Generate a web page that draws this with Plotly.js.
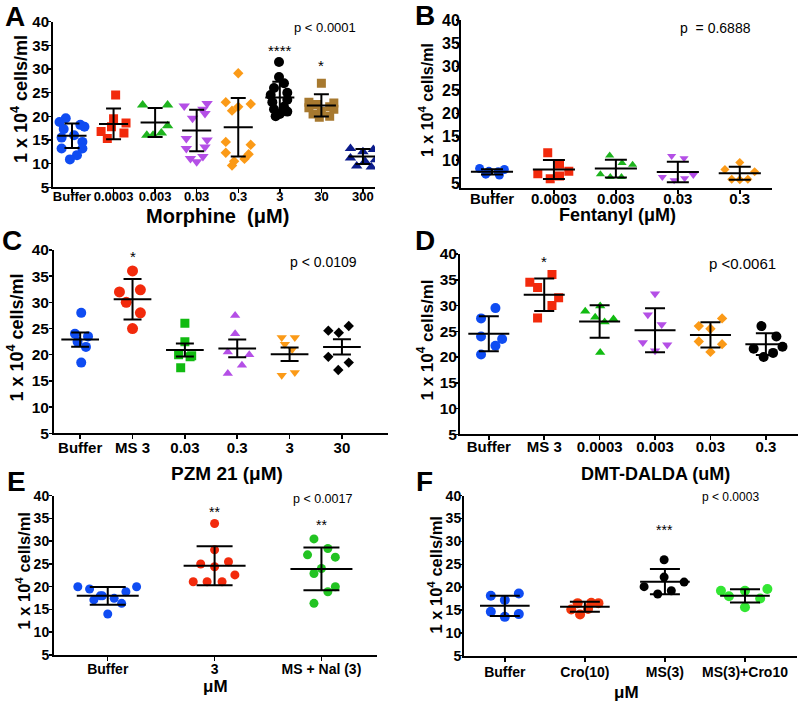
<!DOCTYPE html>
<html><head><meta charset="utf-8">
<script src="https://cdn.plot.ly/plotly-3.0.1.min.js"></script>
<style>body{margin:0;background:#fff}#chart{width:800px;height:705px}</style>
</head><body><div id="chart"></div>
<script>
// ---------- Panel A : Morphine ----------
const aLabels = ['Buffer','0.0003','0.003','0.03','0.3','3','30','300'];
const aValues = [
  [19.6,18.8,18.2,17.8,17.3,16.0,15.5,14.6,13.2,13.2,11.8,10.9],
  [24.5,19.5,18.6,17.8,16.8,16.5,15.3],
  [22.4,22.4,18.0,16.5,16.0,16.0],
  [22.7,22.2,21.5,20.6,19.6,15.3,15.0,13.5,13.2,11.5,11.1,10.4],
  [29.1,23.0,22.6,22.0,21.2,14.6,14.0,12.3,12.0,11.0,10.5,9.6],
  [31.5,28.3,27.0,26.0,25.0,24.5,23.5,23.0,22.0,21.5,21.0,20.5,20.0],
  [27.0,23.0,22.8,22.5,22.0,21.8,21.5,21.0,20.5,20.0,19.8],
  [13.2,13.0,12.5,11.2,10.8,10.5,9.5,9.3]
];
const aJitter = [
  [-0.15,-0.3,0.2,0.3,-0.2,0.05,-0.25,0.25,-0.25,0.25,0.12,-0.05],
  [0.05,0.0,0.3,-0.05,-0.3,0.25,-0.15],
  [-0.3,0.3,0.3,0.15,-0.2,-0.05],
  [0.25,-0.3,0.15,0.2,-0.1,-0.25,0.25,0.2,-0.25,0.15,-0.15,0.0],
  [0.0,-0.3,0.3,0.0,-0.15,-0.3,0.3,-0.3,0.25,0.15,-0.1,-0.15],
  [-0.02,-0.02,0.1,-0.14,0.18,-0.22,0.18,-0.18,0.1,-0.14,0.18,0.0,-0.1],
  [0.0,-0.3,0.3,-0.1,0.2,-0.3,0.3,0.0,-0.2,0.2,-0.05],
  [-0.3,0.25,0.0,-0.3,0.3,0.05,-0.15,0.2]
];
const aMean = [15.9,18.4,18.7,17.0,17.7,24.0,22.3,11.5];
const aSD   = [2.6,3.25,3.05,4.4,6.2,3.3,2.35,1.6];

// ---------- Panel B : Fentanyl ----------
const bLabels = ['Buffer','0.0003','0.003','0.03','0.3'];
const bValues = [
  [8.2,8.0,7.6,7.5,7.0,6.8],
  [11.6,9.1,7.6,7.1,6.6,6.0],
  [11.0,9.4,9.0,7.0,6.4,6.4],
  [10.9,10.4,6.8,6.4,6.1,5.7],
  [9.5,8.0,7.5,5.9,5.8,5.9]
];
const bJitter = [
  [-0.2,0.2,-0.05,0.1,-0.1,0.12],
  [-0.1,0.09,0.24,-0.26,0.09,-0.06],
  [-0.1,0.1,0.27,-0.25,-0.09,0.09],
  [-0.1,0.1,0.25,-0.25,0.11,-0.06],
  [0.0,-0.24,0.24,-0.13,0.0,0.13]
];
const bMean = [7.5,8.0,8.2,7.45,7.2];
const bSD   = [0.55,2.05,1.9,2.2,1.4];

// ---------- Panel C : PZM 21 ----------
const cLabels = ['Buffer','MS 3','0.03','0.3','3','30'];
const cValues = [
  [28.0,24.0,23.5,22.5,21.5,18.5],
  [36.0,32.0,32.4,30.0,28.0,25.0],
  [26.0,22.5,20.0,19.6,19.8,17.5],
  [27.5,24.0,20.5,20.0,18.0,16.4],
  [23.3,23.3,22.0,21.0,16.1,16.6],
  [24.6,24.2,25.5,19.6,18.5,17.1]
];
const cJitter = [
  [0.02,-0.1,0.15,-0.05,0.11,0.02],
  [0.0,-0.25,0.15,-0.12,0.15,0.0],
  [0.0,0.0,-0.12,0.1,0.13,-0.08],
  [-0.04,-0.04,-0.18,0.23,0.09,-0.18],
  [-0.15,0.1,-0.09,0.05,-0.15,0.1],
  [-0.26,-0.06,0.13,-0.26,0.13,-0.07]
];
const cMean = [22.9,30.6,20.9,21.2,20.1,21.5];
const cErr  = [1.35,3.85,1.25,1.7,1.3,1.45];

// ---------- Panel D : DMT-DALDA ----------
const dLabels = ['Buffer','MS 3','0.0003','0.003','0.03','0.3'];
const dValues = [
  [29.5,27.5,24.0,23.5,22.2,20.5],
  [36.0,34.5,33.5,31.5,30.0,27.6],
  [28.9,29.9,27.7,26.8,27.4,20.9],
  [32.3,28.2,26.3,22.8,22.4,21.2],
  [26.0,25.5,27.5,23.0,22.5,21.0],
  [26.0,24.0,21.6,22.0,20.8,20.0]
];
const dJitter = [
  [0.12,-0.14,-0.14,0.24,0.12,-0.14],
  [0.14,-0.26,-0.12,0.26,0.14,-0.12],
  [-0.26,0.01,-0.08,0.09,0.25,0.01],
  [0.0,-0.13,0.12,-0.22,0.22,0.0],
  [-0.21,0.0,0.21,-0.21,0.21,0.0],
  [-0.08,0.19,-0.22,0.3,0.13,-0.04]
];
const dMean = [24.5,32.1,26.9,25.2,24.3,22.5];
const dSD   = [3.4,3.15,3.15,4.25,2.45,2.1];

// ---------- Panel E : uM ----------
const eLabels = ['Buffer','3','MS + Nal (3)'];
const eValues = [
  [20.0,19.5,18.0,17.1,18.0,17.45,14.0,16.35,18.9,20.0],
  [33.9,28.1,25.0,25.5,24.4,22.6,21.1,21.1,21.1],
  [30.5,28.4,27.0,26.5,24.0,22.9,20.0,18.9,16.35]
];
const eJitter = [
  [-0.28,-0.17,-0.07,-0.13,-0.05,0.06,0.0,0.13,0.17,0.27],
  [0.0,0.0,-0.13,0.13,0.0,0.19,-0.2,-0.07,0.07],
  [-0.07,0.06,-0.13,0.13,0.0,-0.07,0.13,0.06,-0.07]
];
const eMean = [18.0,24.6,23.9];
const eSD   = [1.95,4.3,4.7];

// ---------- Panel F : uM ----------
const fLabels = ['Buffer','Cro(10)','MS(3)','MS(3)+Cro10'];
const fValues = [
  [18.1,18.6,17.2,14.6,14.1,13.5],
  [16.5,16.6,16.5,15.1,15.2,14.0],
  [26.0,22.2,20.1,21.1,18.5,19.2],
  [19.2,18.0,19.2,19.6,17.5,15.6]
];
const fJitter = [
  [-0.175,0.175,0.0,-0.175,0.175,0.0],
  [-0.09,0.08,0.17,-0.17,0.04,-0.06],
  [-0.01,-0.01,-0.26,0.24,-0.09,0.08],
  [-0.3,-0.2,0.0,0.28,0.19,0.0]
];
const fMean = [15.9,15.7,21.2,18.1];
const fSD   = [2.2,1.1,2.75,1.45];

const yTicks = [5,10,15,20,25,30,35,40];

const BLUE='#0f4cf2', RED='#f22a0c', GREEN='#1fb41f', PURPLE='#b44fe6', ORANGE='#fb9a17', BLACK='#000000';

const W=800, H=705;
const FONT = "Arial, 'Liberation Sans', sans-serif";

const panels = [
  {labels:aLabels, values:aValues, jitter:aJitter, mean:aMean, err:aSD,
   colors:[BLUE,RED,GREEN,PURPLE,ORANGE,BLACK,'#a7792f','#0c1c8c'],
   symbols:['circle','square','triangle-up','triangle-down','diamond','circle','square','triangle-up'],
   sizes:[10,9,10,10,8,10,9,10],
   box:[53,375,21.7,187.3], xr:[-0.457,7.29], yr:[5,40], meanW:0.35, capW:7.5, xfs:13, yfs:15, xso:-8, yso:-4},
  {labels:bLabels, values:bValues, jitter:bJitter, mean:bMean, err:bSD,
   colors:[BLUE,RED,GREEN,PURPLE,ORANGE],
   symbols:['circle','square','triangle-up','triangle-down','diamond'],
   sizes:[9,9,8,8,7],
   box:[461,772,20,187.7], xr:[-0.5,4.52], yr:[4.1,40], meanW:0.34, capW:11, xfs:15, yfs:16, xso:-8, yso:-7},
  {labels:cLabels, values:cValues, jitter:cJitter, mean:cMean, err:cErr,
   colors:[BLUE,RED,'#11bb11',PURPLE,ORANGE,BLACK],
   symbols:['circle','circle','square','triangle-up','triangle-down','diamond'],
   sizes:[10,11,9,9,9,8],
   box:[54,388,250,433.3], xr:[-0.5,5.88], yr:[5,40], meanW:0.36, capW:9, xfs:15, yfs:15.5, xso:-4, yso:-3},
  {labels:dLabels, values:dValues, jitter:dJitter, mean:dMean, err:dSD,
   colors:[BLUE,RED,'#11bb11',PURPLE,ORANGE,BLACK],
   symbols:['circle','square','triangle-up','triangle-down','diamond','circle'],
   sizes:[10,9,9,9,8,10],
   box:[460,798,254,434.3], xr:[-0.52,5.58], yr:[5,40], meanW:0.37, capW:10, xfs:15, yfs:15.5, xso:-6, yso:-5},
  {labels:eLabels, values:eValues, jitter:eJitter, mean:eMean, err:eSD,
   colors:[BLUE,RED,'#22c322'],
   symbols:['circle','circle','circle'],
   sizes:[9,9,9],
   box:[54,377,495.7,655], xr:[-0.503,2.52], yr:[5,40], meanW:0.29, capW:18, xfs:14, yfs:14, xso:-4, yso:-3},
  {labels:fLabels, values:fValues, jitter:fJitter, mean:fMean, err:fSD,
   colors:[BLUE,'#f2360c',BLACK,'#33e633'],
   symbols:['circle','circle','circle','circle'],
   sizes:[10,10,9,10],
   box:[464,797,495.7,655.7], xr:[-0.51,3.65], yr:[5,40], meanW:0.31, capW:15, xfs:14, yfs:14, xso:-2, yso:-5}
];

const traces = [];
const layout = {
  width:W, height:H, margin:{l:0,r:0,t:0,b:0},
  paper_bgcolor:'#fff', plot_bgcolor:'#fff', showlegend:false,
  font:{family:FONT, color:'#000'}, annotations:[]
};

panels.forEach((p, k) => {
  const s = k === 0 ? '' : String(k+1);
  const xa = 'x'+s, ya = 'y'+s;
  p.values.forEach((vals, i) => {
    traces.push({
      type:'scatter', mode:'markers', xaxis:xa, yaxis:ya, hoverinfo:'skip',
      x: vals.map((_, j) => i + p.jitter[i][j]), y: vals,
      marker:{symbol:p.symbols[i], color:p.colors[i], size:p.sizes[i], line:{width:0}}
    });
  });
  traces.push({
    type:'scatter', mode:'markers', xaxis:xa, yaxis:ya, hoverinfo:'skip',
    x: p.mean.map((_, i) => i), y: p.mean,
    marker:{size:1, color:'rgba(0,0,0,0)'},
    error_y:{type:'data', array:p.err, symmetric:true, color:'#000', thickness:2, width:p.capW}
  });
  const mx = [], my = [];
  p.mean.forEach((m, i) => { mx.push(i - p.meanW, i + p.meanW, null); my.push(m, m, null); });
  traces.push({type:'scatter', mode:'lines', xaxis:xa, yaxis:ya, hoverinfo:'skip',
    x:mx, y:my, line:{color:'#000', width:2}});

  const [l, r, t, b] = p.box;
  layout['xaxis'+s] = {
    domain:[l/W, r/W], range:p.xr, anchor:ya, showline:true, linecolor:'#000', linewidth:2,
    ticks:'outside', ticklen:4, tickwidth:1.5, tickcolor:'#000', ticklabelstandoff:p.xso,
    tickvals:p.labels.map((_, i) => i), ticktext:p.labels,
    tickfont:{family:FONT, size:p.xfs, color:'#000', weight:'bold'},
    showgrid:false, zeroline:false, fixedrange:true
  };
  layout['yaxis'+s] = {
    domain:[1 - b/H, 1 - t/H], range:p.yr, anchor:xa, showline:true, linecolor:'#000', linewidth:2,
    ticks:'outside', ticklen:3, tickwidth:1.5, tickcolor:'#000', ticklabelstandoff:p.yso,
    tickvals:yTicks, ticktext:yTicks.map(String),
    tickfont:{family:FONT, size:p.yfs, color:'#000', weight:'bold'},
    showgrid:false, zeroline:false, fixedrange:true
  };
});

function ann(text, px, py, size, opts) {
  return Object.assign({text:text, xref:'paper', yref:'paper', x:px/W, y:1-py/H,
    xanchor:'center', yanchor:'middle', showarrow:false,
    font:{family:FONT, size:size, color:'#000'}}, opts || {});
}
function dann(k, text, x, y, size) {
  const s = k === 0 ? '' : String(k+1);
  return {text:text, xref:'x'+s, yref:'y'+s, x:x, y:y, xanchor:'center', yanchor:'middle',
    showarrow:false, font:{family:FONT, size:size, color:'#000'}};
}
const A = layout.annotations;
[['A',15,16],['B',425,15],['C',12,240],['D',425,240],['E',16,481],['F',424,481]].forEach(d =>
  A.push(ann('<b>'+d[0]+'</b>', d[1], d[2], 28)));
const yTitle = '<b>1 x 10<sup>4</sup> cells/ml</b>';
[[19.5,99.5,18],[425.5,100.5,16],[15.5,338,18],[425.5,340,17],[23,571.5,16.5],[435.5,575,16.5]].forEach(d =>
  A.push(ann(yTitle, d[0], d[1], d[2], {textangle:-90})));
A.push(ann('<b>Morphine  (μM)</b>', 217, 216, 20));
A.push(ann('<b>Fentanyl (μM)</b>', 617, 215, 18));
A.push(ann('<b>PZM 21 (μM)</b>', 227, 473, 19));
A.push(ann('<b>DMT-DALDA (uM)</b>', 655, 474, 18));
A.push(ann('<b>μM</b>', 215, 686, 17));
A.push(ann('<b>μM</b>', 626, 692, 17));
A.push(dann(0, 'p < 0.0001', 6.09, 38.7, 13));
A.push(dann(0, '****', 5, 34.0, 15));
A.push(dann(0, '*', 6, 30.8, 15));
A.push(dann(1, 'p  = 0.6888', 3.6, 38.3, 14));
A.push(dann(2, 'p < 0.0109', 4.64, 37.8, 14));
A.push(dann(2, '*', 1, 38.7, 15));
A.push(dann(3, 'p <0.0061', 4.58, 38.2, 15));
A.push(dann(3, '*', 1, 38.6, 15));
A.push(dann(4, 'p < 0.0017', 2.01, 39.2, 12.5));
A.push(dann(4, '**', 1, 36.5, 14));
A.push(dann(4, '**', 2, 33.6, 14));
A.push(dann(5, 'p < 0.0003', 2.82, 39.8, 12));
A.push(dann(5, '***', 2, 32.5, 14));

Plotly.newPlot('chart', traces, layout, {staticPlot:true, displayModeBar:false});
</script>
</body></html>
